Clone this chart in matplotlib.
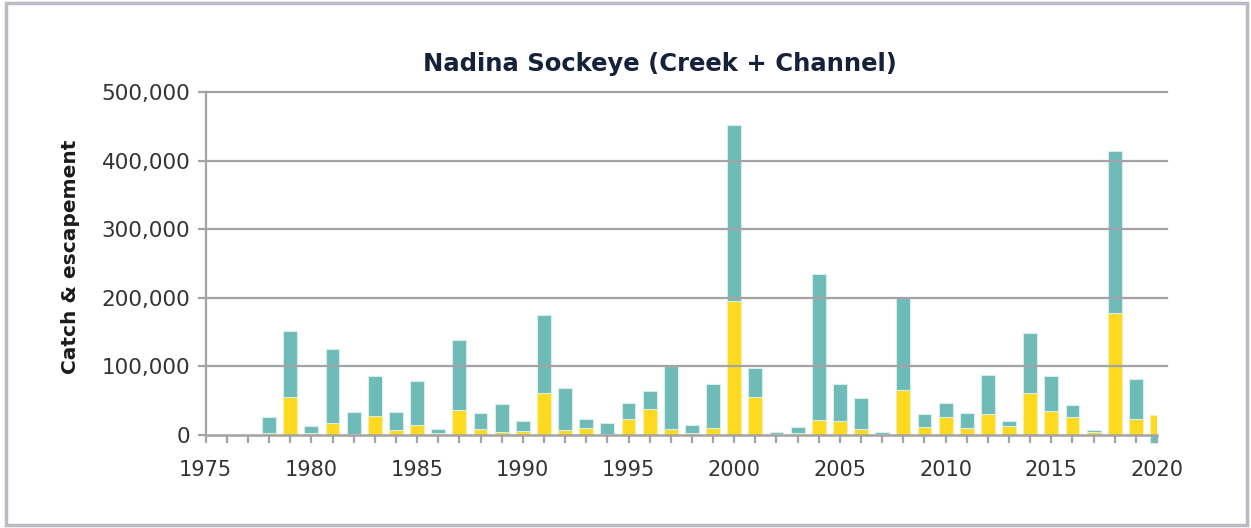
import matplotlib
matplotlib.use('Agg')
import matplotlib.pyplot as plt
import matplotlib.patches as patches
import numpy as np

# Nadina Sockeye (Creek + Channel): catch & escapement

years = list(range(1975, 2021))

# yellow (bottom) segment
yellow = [0, 0, 0, 2400, 55000, 2400, 18000, 1500, 27000, 7000,
          14000, 3000, 37000, 9000, 4000, 6000, 61000, 7000, 10000, 2000,
          23000, 38000, 9000, 3000, 10000, 195000, 55000, 2000, 3000, 22000,
          21000, 9000, 2000, 65000, 11000, 26000, 10000, 31000, 13000, 61000,
          35000, 26000, 5000, 178000, 23000, 29000]

# teal (top) segment
teal = [0, 0, 0, 23600, 97000, 10600, 107000, 32500, 59000, 26000,
        64000, 5000, 102000, 23000, 41000, 15000, 114000, 61000, 14000, 16000,
        24000, 26000, 91000, 12000, 64000, 257000, 42000, 2000, 9000, 212000,
        53000, 45000, 2000, 134000, 19000, 21000, 22000, 56000, 8000, 87000,
        51000, 17000, 2000, 236000, 59000, -11000]

yticks = [0, 100000, 200000, 300000, 400000, 500000]
ytick_labels = ['0', '100,000', '200,000', '300,000', '400,000', '500,000']
xticks = [1975, 1980, 1985, 1990, 1995, 2000, 2005, 2010, 2015, 2020]

teal_color = '#6ebbb7'
yellow_color = '#fdd91f'
grid_color = '#a3a3a5'
text_color = '#333333'

plt.rcParams['font.family'] = ['DejaVu Sans']

fig = plt.figure(figsize=(12.51, 5.28), dpi=100)

# light border round the whole figure
border = patches.Rectangle((0.005, 0.005), 0.9915, 0.99, transform=fig.transFigure,
                           fill=False, edgecolor='#bab9c4', lw=2.5)
fig.patches.append(border)

ax = fig.add_axes([0.1644, 0.1502, 0.7605, 0.6756])

yel = np.array(yellow, dtype=float)
tel = np.array(teal, dtype=float)
teal_bottom = np.where(tel >= 0, yel, 0)

ax.bar(years, yel, width=0.66, color=yellow_color, edgecolor='#fbeea8', lw=0.8, zorder=2)
ax.bar(years, tel, width=0.66, bottom=teal_bottom, color=teal_color,
       edgecolor='#d7eeec', lw=0.8, zorder=2)

# horizontal grid lines, running a little past the last year
for y in yticks[1:]:
    ax.axhline(y, xmin=0, xmax=1.0105, color=grid_color, lw=1.6, zorder=3, clip_on=False)

ax.set_xlim(1975, 2020)
ax.set_ylim(-20000, 500000)

ax.spines['top'].set_visible(False)
ax.spines['right'].set_visible(False)
ax.spines['bottom'].set_position(('data', 0))
ax.spines['bottom'].set_color(grid_color)
ax.spines['bottom'].set_linewidth(1.8)
ax.spines['bottom'].set_zorder(4)
ax.spines['left'].set_color(grid_color)
ax.spines['left'].set_linewidth(1.6)
ax.spines['left'].set_bounds(0, 500000)

ax.set_xticks(years, minor=True)
ax.set_xticks(xticks)
ax.set_xticklabels([str(x) for x in xticks])
ax.tick_params(axis='x', which='both', direction='out', length=6, width=1.6,
               color=grid_color, labelsize=15, labelcolor=text_color, pad=12)
ax.set_yticks(yticks)
ax.set_yticklabels(ytick_labels)
ax.tick_params(axis='y', direction='out', length=6, width=1.6, color=grid_color,
               labelsize=15.5, labelcolor=text_color, pad=5)

ax.set_ylabel('Catch & escapement', fontsize=14.5, fontweight='bold', color='#1b1b1b')
ax.yaxis.label.set_verticalalignment('center')
ax.yaxis.set_label_coords(-0.1419, 0.537)

fig.text(0.5276, 0.878, 'Nadina Sockeye (Creek + Channel)', ha='center', va='center',
         fontsize=17.5, fontweight='bold', color='#15223a')

fig.savefig('out.png', dpi=100)
